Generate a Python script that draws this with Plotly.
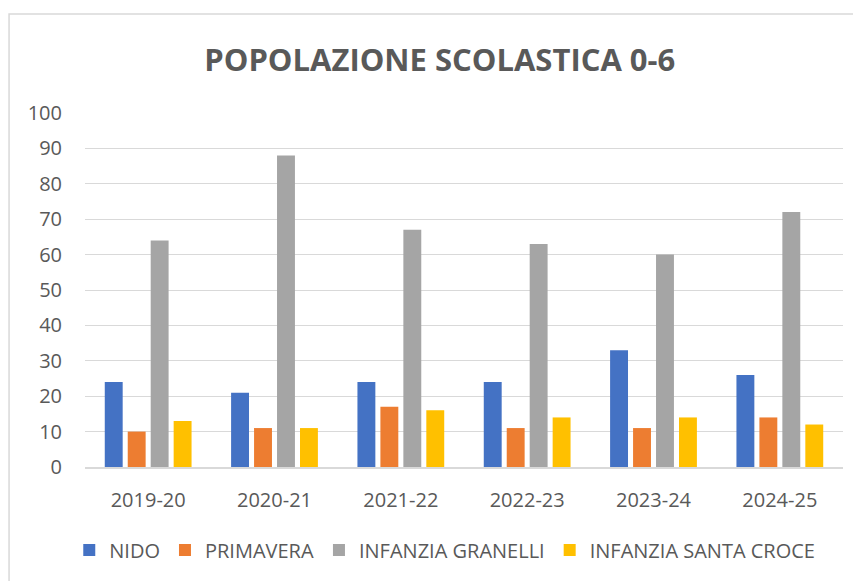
import plotly.graph_objects as go

categories = ["2019-20", "2020-21", "2021-22", "2022-23", "2023-24", "2024-25"]
nido = [24, 21, 24, 24, 33, 26]
primavera = [10, 11, 17, 11, 11, 14]
granelli = [64, 88, 67, 63, 60, 72]
santa_croce = [13, 11, 16, 14, 14, 12]

series = [
    ("NIDO", nido, "#4472C4"),
    ("PRIMAVERA", primavera, "#ED7D31"),
    ("INFANZIA GRANELLI", granelli, "#A5A5A5"),
    ("INFANZIA SANTA CROCE", santa_croce, "#FFC000"),
]

FONT = "Open Sans"
fig = go.Figure()
for name, vals, col in series:
    fig.add_trace(go.Bar(x=categories, y=vals, name=name, marker_color=col,
                         marker_line_width=0))

OFF = 8  # page body margin
W, H = 861 - OFF, 581 - OFF
L, T = 85 - OFF, 113 - OFF
R = W - (843.5 - OFF)
B = H - (467 - OFF)
pw, ph = W - L - R, H - T - B

def px(x):
    return (x - OFF - L) / pw

def py(y):
    return (H - B - (y - OFF)) / ph

fig.update_layout(
    width=W, height=H,
    margin=dict(l=L, r=R, t=T, b=B, autoexpand=False),
    paper_bgcolor="white", plot_bgcolor="white",
    barmode="group", bargap=0.273, bargroupgap=0.22,
    title=dict(text="<b>POPOLAZIONE SCOLASTICA 0-6</b>", x=px(440), xref="paper",
               xanchor="center", y=1 - (60 - OFF) / H, yanchor="middle",
               font=dict(family=FONT, size=31, color="#595959")),
    font=dict(family=FONT, color="#595959"),
    xaxis=dict(showgrid=False, showline=True, linecolor="#d9d9d9", linewidth=1.5,
               ticks="", tickfont=dict(size=20, color="#595959"), ticklabelstandoff=14),
    yaxis=dict(range=[0, 100], dtick=10, showgrid=True, gridcolor="#d9d9d9",
               gridwidth=1.3, zeroline=False, showline=False, ticks="",
               tickfont=dict(size=20, color="#595959"), ticklabelstandoff=22),
    legend=dict(orientation="h", x=px(445), xanchor="center", y=py(550),
                yanchor="middle", font=dict(size=20, color="#595959"),
                itemwidth=30, tracegroupgap=0),
    showlegend=True,
    shapes=[dict(type="rect", xref="paper", yref="paper",
                 x0=px(9), x1=px(W + 40), y0=py(H + 40), y1=py(14),
                 line=dict(color="#d9d9d9", width=1.5), layer="below")],
)

fig.write_html("out.html")
